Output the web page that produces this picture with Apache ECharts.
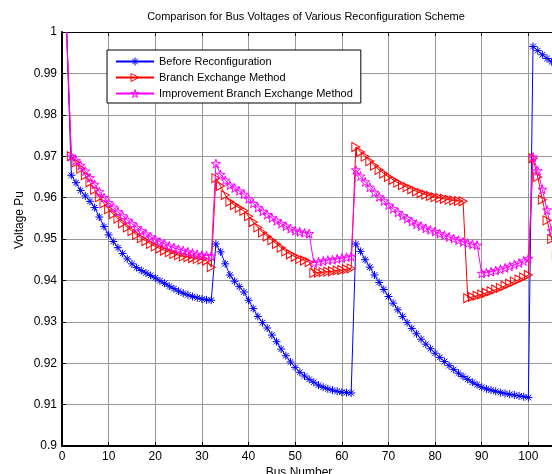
<!DOCTYPE html>
<html>
<head>
    <meta charset="utf-8">
    <title>Bus Voltages</title>
    <script src="https://cdn.jsdelivr.net/npm/echarts@6/dist/echarts.min.js"></script>
    <style>
        html, body { margin: 0; padding: 0; background: #fff; }
    </style>
</head>
<body>
    <div id="main" style="width: 552px;height:474px;"></div>
    <script type="text/javascript">
    // bus voltages, one value per bus starting at bus 1
    var seriesNames = ['Before Reconfiguration', 'Branch Exchange Method', 'Improvement Branch Exchange Method'];
    var seriesColors = ['#0000ff', '#ff0000', '#ff00ff'];
    var xTicks = [0, 10, 20, 30, 40, 50, 60, 70, 80, 90, 100, 110];
    var yTicks = [0.9, 0.91, 0.92, 0.93, 0.94, 0.95, 0.96, 0.97, 0.98, 0.99, 1];

    var before = [
        1.0000, 0.9654, 0.9636, 0.9617, 0.9604, 0.9591, 0.9576, 0.9553, 0.9530, 0.9510,
        0.9494, 0.9479, 0.9465, 0.9452, 0.9440, 0.9431, 0.9424, 0.9418, 0.9412, 0.9406,
        0.9399, 0.9393, 0.9386, 0.9380, 0.9374, 0.9369, 0.9365, 0.9361, 0.9358, 0.9355,
        0.9353, 0.9352, 0.9488, 0.9469, 0.9440, 0.9413, 0.9398, 0.9385, 0.9372, 0.9352,
        0.9332, 0.9313, 0.9298, 0.9285, 0.9268, 0.9252, 0.9234, 0.9218, 0.9203, 0.9190,
        0.9178, 0.9169, 0.9161, 0.9154, 0.9147, 0.9142, 0.9138, 0.9135, 0.9132, 0.9130,
        0.9129, 0.9128, 0.9488, 0.9470, 0.9450, 0.9432, 0.9413, 0.9395, 0.9378, 0.9361,
        0.9345, 0.9329, 0.9313, 0.9298, 0.9284, 0.9271, 0.9258, 0.9246, 0.9235, 0.9224,
        0.9214, 0.9204, 0.9194, 0.9185, 0.9176, 0.9168, 0.9161, 0.9154, 0.9148, 0.9142,
        0.9138, 0.9135, 0.9132, 0.9129, 0.9127, 0.9125, 0.9123, 0.9121, 0.9119, 0.9117,
        0.9965, 0.9955, 0.9945, 0.9936, 0.9928, 0.9921
    ];
    var branchExchange = [
        1.0000, 0.9700, 0.9685, 0.9670, 0.9654, 0.9637, 0.9619, 0.9601, 0.9586, 0.9572,
        0.9560, 0.9549, 0.9538, 0.9528, 0.9519, 0.9510, 0.9502, 0.9495, 0.9488, 0.9482,
        0.9477, 0.9472, 0.9468, 0.9464, 0.9461, 0.9458, 0.9456, 0.9454, 0.9452, 0.9450,
        0.9448, 0.9432, 0.9647, 0.9628, 0.9606, 0.9590, 0.9582, 0.9575, 0.9568, 0.9555,
        0.9541, 0.9528, 0.9516, 0.9506, 0.9497, 0.9488, 0.9479, 0.9470, 0.9463, 0.9457,
        0.9452, 0.9448, 0.9444, 0.9418, 0.9419, 0.9420, 0.9421, 0.9422, 0.9424, 0.9425,
        0.9427, 0.9429, 0.9722, 0.9710, 0.9699, 0.9688, 0.9677, 0.9667, 0.9658, 0.9650,
        0.9643, 0.9636, 0.9630, 0.9625, 0.9620, 0.9615, 0.9611, 0.9607, 0.9604, 0.9601,
        0.9599, 0.9597, 0.9595, 0.9593, 0.9592, 0.9591, 0.9357, 0.9360, 0.9363, 0.9366,
        0.9370, 0.9374, 0.9378, 0.9382, 0.9387, 0.9392, 0.9397, 0.9402, 0.9407, 0.9413,
        0.9695, 0.9650, 0.9595, 0.9545, 0.9500, 0.9460
    ];
    var improvedExchange = [
        1.0000, 0.9700, 0.9690, 0.9678, 0.9664, 0.9648, 0.9632, 0.9614, 0.9600, 0.9588,
        0.9577, 0.9566, 0.9556, 0.9546, 0.9537, 0.9528, 0.9520, 0.9512, 0.9505, 0.9499,
        0.9493, 0.9488, 0.9483, 0.9479, 0.9475, 0.9472, 0.9469, 0.9466, 0.9463, 0.9461,
        0.9460, 0.9459, 0.9682, 0.9656, 0.9642, 0.9630, 0.9623, 0.9616, 0.9608, 0.9597,
        0.9586, 0.9576, 0.9567, 0.9559, 0.9551, 0.9544, 0.9537, 0.9531, 0.9525, 0.9520,
        0.9517, 0.9515, 0.9513, 0.9442, 0.9445, 0.9447, 0.9449, 0.9450, 0.9452, 0.9454,
        0.9456, 0.9458, 0.9667, 0.9652, 0.9638, 0.9625, 0.9613, 0.9602, 0.9592, 0.9582,
        0.9573, 0.9564, 0.9556, 0.9549, 0.9542, 0.9536, 0.9531, 0.9526, 0.9522, 0.9518,
        0.9513, 0.9509, 0.9505, 0.9501, 0.9497, 0.9493, 0.9490, 0.9487, 0.9485, 0.9417,
        0.9419, 0.9421, 0.9424, 0.9427, 0.9430, 0.9434, 0.9438, 0.9442, 0.9447, 0.9453,
        0.9698, 0.9665, 0.9620, 0.9570, 0.9520, 0.9490
    ];

    // pair each value with its bus number (bus 1 is the first entry);
    // the bus-1 marker sits on the top edge and is clipped away in the original
    function toPoints(arr) {
        var out = [];
        for (var i = 0; i < arr.length; i++) {
            if (i === 0) out.push({ value: [i + 1, arr[i]], symbol: 'none' });
            else out.push([i + 1, arr[i]]);
        }
        return out;
    }

    var FONT = '"Liberation Sans", Arial, Helvetica, sans-serif';
    var asterisk = 'path://M5,0L5,10M0,5L10,5M1.5,1.5L8.5,8.5M1.5,8.5L8.5,1.5';
    var triRight = 'path://M0,0L10,5L0,10Z';
    var star5 = 'path://M50,0L61,35L98,35L68,57L79,91L50,70L21,91L32,57L2,35L39,35Z';

    function makeSeries(name, arr, color, symbol, size) {
        return {
            name: name,
            type: 'line',
            color: color,
            data: toPoints(arr),
            symbol: symbol,
            symbolSize: size,
            showAllSymbol: true,
            lineStyle: { color: color, width: 1 },
            itemStyle: { color: 'rgba(0,0,0,0)', borderColor: color, borderWidth: 1 },
            emphasis: { disabled: true },
            animation: false
        };
    }

    // legend markers are outlines like the plotted ones; lines keep the series colour
    var legendItems = seriesNames.map(function (n, i) {
        return {
            name: n,
            itemStyle: { color: 'rgba(0,0,0,0)', borderColor: seriesColors[i], borderWidth: 1 }
        };
    });

    var myChart = echarts.init(document.getElementById('main'));

    var option = {
        backgroundColor: '#fff',
        animation: false,
        grid: { left: 62, top: 32, width: 513, height: 414, containLabel: false, outerBoundsMode: 'none' },
        legend: {
            data: legendItems,
            orient: 'vertical',
            left: 107,
            top: 50,
            padding: [6, 8, 4, 8],
            itemWidth: 38,
            itemHeight: 10,
            itemGap: 5,
            backgroundColor: '#fff',
            borderColor: '#000',
            borderWidth: 1,
            borderRadius: 0,
            textStyle: { fontFamily: FONT, fontSize: 11, color: '#000' },
            selectedMode: false
        },
        xAxis: [{
            type: 'value',
            min: 0,
            max: 110,
            interval: 10,
            axisLine: { lineStyle: { color: '#000', width: 2 } },
            axisTick: { inside: true, length: 4, lineStyle: { color: '#000' } },
            axisLabel: {
                fontFamily: FONT, fontSize: 12, color: '#000', margin: 5,
                formatter: function (v) { return xTicks.indexOf(v) >= 0 ? String(v) : ''; }
            },
            splitLine: { show: true, lineStyle: { color: '#999', width: 1 } }
        }, {
            type: 'value',
            position: 'top',
            min: 0,
            max: 110,
            interval: 10,
            axisLine: { lineStyle: { color: '#000', width: 1 } },
            axisTick: { inside: true, length: 4, lineStyle: { color: '#000' } },
            axisLabel: { show: false },
            splitLine: { show: false }
        }],
        yAxis: {
            type: 'value',
            min: 0.9,
            max: 1,
            interval: 0.01,
            axisLine: { show: true, lineStyle: { color: '#000', width: 2 } },
            axisTick: { show: true, inside: true, length: 4, lineStyle: { color: '#000' } },
            axisLabel: {
                fontFamily: FONT, fontSize: 12, color: '#000', margin: 5,
                formatter: function (v) {
                    var r = Math.round(v * 100) / 100;
                    for (var i = 0; i < yTicks.length; i++) if (Math.abs(yTicks[i] - r) < 1e-9) return String(yTicks[i]);
                    return '';
                }
            },
            splitLine: { show: true, lineStyle: { color: '#999', width: 1 } }
        },
        graphic: [{
            type: 'text', x: 306, y: 17,
            style: { text: 'Comparison for Bus Voltages of Various Reconfiguration Scheme', font: '11px ' + FONT, fill: '#000', textAlign: 'center', textVerticalAlign: 'middle' }
        }, {
            type: 'text', x: 20, y: 220, rotation: Math.PI / 2,
            style: { text: 'Voltage Pu', font: '12px ' + FONT, fill: '#000', textAlign: 'center', textVerticalAlign: 'middle' }
        }, {
            type: 'text', x: 299, y: 467,
            style: { text: 'Bus Number', font: '12px ' + FONT, fill: '#000', textAlign: 'center', textVerticalAlign: 'top' }
        }],
        series: [
            makeSeries(seriesNames[0], before, seriesColors[0], asterisk, 8),
            makeSeries(seriesNames[1], branchExchange, seriesColors[1], triRight, [8, 9]),
            makeSeries(seriesNames[2], improvedExchange, seriesColors[2], star5, 9)
        ]
    };

    myChart.setOption(option);
    </script>
</body>
</html>
